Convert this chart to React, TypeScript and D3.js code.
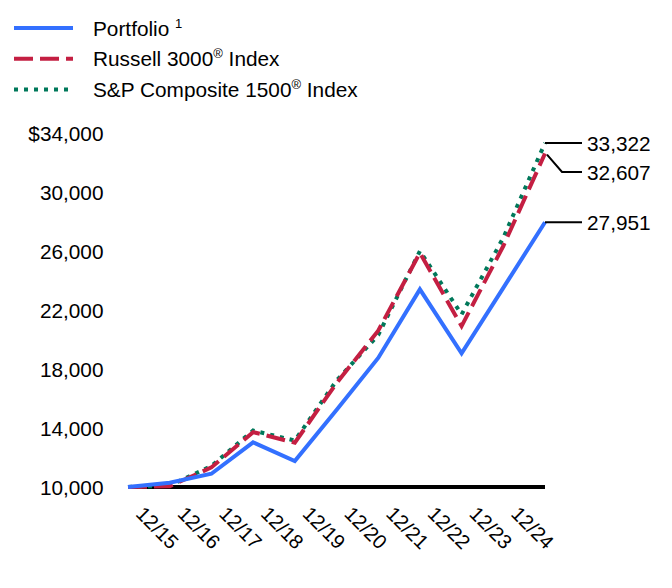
import React from "react";
import * as d3 from "d3";

const dates = ["12/14", "12/15", "12/16", "12/17", "12/18", "12/19", "12/20", "12/21", "12/22", "12/23", "12/24"];
const tickLabels = ["12/15", "12/16", "12/17", "12/18", "12/19", "12/20", "12/21", "12/22", "12/23", "12/24"];
const portfolio = [10000, 10290, 10900, 13030, 11760, 15220, 18750, 23400, 19060, 23500, 27951];
const russell = [10000, 10048, 11328, 13722, 13003, 17036, 20595, 25879, 20908, 26337, 32607];
const sp1500 = [10000, 10101, 11420, 13830, 13150, 17210, 20300, 26000, 21700, 26900, 33322];
const yTicks = [10000, 14000, 18000, 22000, 26000, 30000, 34000];

const FONT = "'Liberation Sans', Arial, sans-serif";
const BLUE = "#3370ff";
const RED = "#c41f42";
const GREEN = "#00785a";

export default function App() {
  const x = d3.scalePoint<string>().domain(dates).range([128, 545]);
  const y = d3.scaleLinear().domain([10000, 34000]).range([487, 133]);
  const line = (vals: number[]) =>
    d3.line<number>().x((_, i) => x(dates[i]) as number).y((v) => y(v))(vals) as string;

  const series = [
    { name: "sp", vals: sp1500, color: GREEN, dash: "4,6" },
    { name: "russell", vals: russell, color: RED, dash: "19,7" },
    { name: "portfolio", vals: portfolio, color: BLUE, dash: null },
  ];

  const ends = [sp1500, russell, portfolio]
    .map((v) => ({ value: v[v.length - 1], y0: y(v[v.length - 1]) }))
    .sort((a, b) => a.y0 - b.y0);
  let prev = -Infinity;
  const endLabels = ends.map((e) => {
    const ly = Math.max(e.y0, prev + 29);
    prev = ly;
    return { ...e, ly };
  });
  const xEnd = x(dates[dates.length - 1]) as number;
  const fmt = d3.format(",");

  const legend = [
    { label: "Portfolio", sup: "1", color: BLUE, dash: null, extra: "" },
    { label: "Russell 3000", sup: "®", color: RED, dash: "19,7", extra: " Index" },
    { label: "S&P Composite 1500", sup: "®", color: GREEN, dash: "4,6", extra: " Index" },
  ];

  return (
    <svg
      width={672}
      height={588}
      style={{ position: "absolute", left: 0, top: 0, display: "block", background: "#fff" }}
      fontFamily={FONT}
    >
      {legend.map((l, i) => {
        const cy = 28 + i * 30.7;
        return (
          <g key={l.label}>
            <line x1={14} x2={73} y1={cy} y2={cy} stroke={l.color} strokeWidth={4} strokeDasharray={l.dash ?? undefined} />
            <text x={93} y={cy + 7.5} fontSize={20.8} fill="#000">
              {l.label}
              {l.sup === "1" ? " " : ""}
              <tspan fontSize={13} dy={-8}>{l.sup}</tspan>
              <tspan dy={8}>{l.extra}</tspan>
            </text>
          </g>
        );
      })}

      {yTicks.map((t) => (
        <text key={t} x={103.5} y={y(t) + 7.5} fontSize={20.8} textAnchor="end" fill="#000">
          {t === 34000 ? "$" + fmt(t) : fmt(t)}
        </text>
      ))}

      <line x1={128} x2={545} y1={y(10000)} y2={y(10000)} stroke="#000" strokeWidth={4} />

      {series.map((s) => (
        <path
          key={s.name}
          d={line(s.vals)}
          fill="none"
          stroke={s.color}
          strokeWidth={4}
          strokeDasharray={s.dash ?? undefined}
          strokeLinejoin="miter"
        />
      ))}

      {tickLabels.map((t, i) => {
        const px = (x(dates[i + 1]) as number) - 35;
        const py = 515;
        return (
          <text key={t} x={px} y={py} fontSize={20} transform={`rotate(45 ${px} ${py})`} fill="#000">
            {t}
          </text>
        );
      })}

      {endLabels.map((e) => (
        <g key={e.value}>
          <polyline
            points={
              e.ly === e.y0
                ? `${xEnd},${e.y0} ${xEnd + 37},${e.ly}`
                : `${xEnd + 2},${e.y0 + 1} ${xEnd + 17},${e.ly} ${xEnd + 37},${e.ly}`
            }
            fill="none"
            stroke="#000"
            strokeWidth={2}
          />
          <text x={xEnd + 42} y={e.ly + 7.5} fontSize={20.8} fill="#000">
            {fmt(e.value)}
          </text>
        </g>
      ))}
    </svg>
  );
}
